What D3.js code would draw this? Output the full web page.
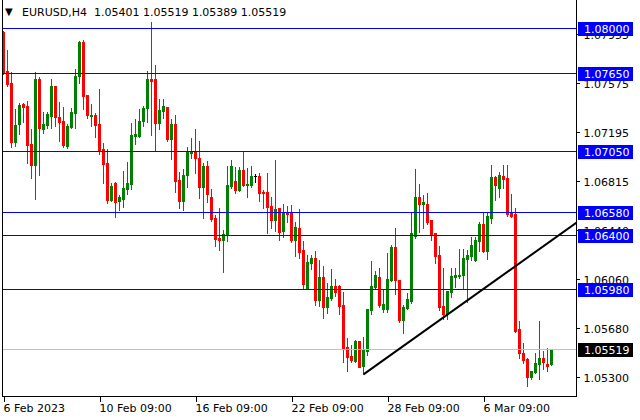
<!DOCTYPE html>
<html>
<head>
<meta charset="utf-8">
<script src="https://cdn.jsdelivr.net/npm/d3@7"></script>
<style>
html,body{margin:0;padding:0;background:#fff;}
svg{display:block;font-family:"DejaVu Sans",Verdana,sans-serif;}
</style>
</head>
<body>
<svg id="chart" width="640" height="420"></svg>
<script>
// ---- data (EURUSD H4) ----
const symbolTitle = "EURUSD,H4";
const opens = [
1.07974,1.07669,1.07576,1.07122,1.07261,1.07414,1.07398,1.07104,1.06944,1.07605,
1.07223,1.07254,1.07323,1.07553,1.0731,1.07282,1.07091,1.07235,1.07347,1.07631,
1.07894,1.07481,1.07321,1.07326,1.07259,1.07065,1.06954,1.0667,1.06802,1.06662,
1.06678,1.06758,1.06796,1.07168,1.07168,1.07282,1.0738,1.07605,1.07605,1.07269,
1.07362,1.07388,1.07145,1.07259,1.06825,1.06665,1.06861,1.07037,1.07042,1.06998,
1.06773,1.06933,1.06693,1.0653,1.06375,1.06362,1.06399,1.06781,1.06817,1.0675,
1.06902,1.06789,1.06789,1.06856,1.06856,1.06732,1.06732,1.06623,1.06515,1.06608,
1.06432,1.06574,1.06574,1.0636,1.06453,1.06282,1.0599,1.06182,1.0622,1.05897,
1.06073,1.05843,1.0591,1.06006,1.06006,1.05856,1.05531,1.05464,1.05422,1.05577,
1.05386,1.055,1.0582,1.05996,1.06073,1.05825,1.05828,1.06047,1.06306,1.0605,
1.05742,1.05835,1.05887,1.06391,1.06693,1.06641,1.06641,1.06515,1.06417,1.06244,
1.05848,1.05784,1.05959,1.06076,1.06081,1.06086,1.06215,1.06236,1.06205,1.06355,
1.06484,1.06277,1.06533,1.06851,1.0676,1.06856,1.0684,1.06566,1.06561,1.0567,
1.05484,1.05438,1.05296,1.05337,1.05402,1.05445,1.05402,1.05401];
const highs = [
1.07979,1.07832,1.07659,1.07375,1.07424,1.07424,1.07437,1.0722,1.07664,1.07623,
1.07349,1.07352,1.07607,1.07553,1.07429,1.0739,1.07259,1.07383,1.07685,1.07902,
1.0791,1.07483,1.07416,1.07344,1.0753,1.07111,1.07065,1.06802,1.06812,1.06709,
1.06895,1.06964,1.07266,1.07297,1.07372,1.07398,1.07669,1.08052,1.07716,1.07452,
1.07452,1.07388,1.07297,1.07328,1.06887,1.0691,1.0708,1.07153,1.0722,1.07127,
1.06957,1.06972,1.06755,1.06551,1.0661,1.06437,1.06936,1.0698,1.06926,1.06926,
1.07044,1.0692,1.06936,1.06871,1.06879,1.06747,1.06879,1.06693,1.0698,1.06608,
1.06641,1.06623,1.06631,1.06502,1.066,1.06355,1.06246,1.06246,1.06277,1.06205,
1.06161,1.06027,1.06138,1.06058,1.06014,1.05959,1.05603,1.05546,1.05585,1.05577,
1.05606,1.05825,1.06197,1.0612,1.06143,1.05983,1.06262,1.06321,1.06453,1.0605,
1.05856,1.05946,1.06574,1.0691,1.06796,1.06709,1.06724,1.06515,1.06417,1.06313,
1.06143,1.05967,1.0614,1.0614,1.06288,1.06288,1.06282,1.06381,1.06381,1.06502,
1.06574,1.06574,1.06941,1.06856,1.06887,1.06938,1.06938,1.06716,1.06605,1.05732,
1.05559,1.05443,1.05347,1.05482,1.05732,1.055,1.05523,1.05519];
const lows = [
1.07644,1.07556,1.07083,1.07091,1.07184,1.07277,1.06959,1.06843,1.0668,1.06866,
1.07192,1.0723,1.0723,1.07243,1.0713,1.07083,1.07075,1.0723,1.0723,1.07579,
1.07378,1.07305,1.07243,1.07161,1.07029,1.06804,1.06649,1.06662,1.06541,1.06595,
1.06618,1.06719,1.06758,1.07106,1.07158,1.07243,1.07277,1.07173,1.07057,1.07223,
1.07308,1.0713,1.0699,1.06732,1.0661,1.06595,1.06773,1.06998,1.06882,1.06688,
1.06533,1.06652,1.0651,1.06316,1.06285,1.06114,1.06355,1.06765,1.06721,1.0674,
1.06778,1.06696,1.06773,1.06809,1.06665,1.0661,1.06417,1.0645,1.0643,1.06362,
1.06386,1.06502,1.06347,1.06238,1.06223,1.0598,1.0598,1.06138,1.05856,1.05848,
1.05758,1.05797,1.05895,1.05926,1.05789,1.05417,1.05347,1.05417,1.05414,1.05378,
1.05319,1.05471,1.05784,1.05985,1.05843,1.05804,1.05804,1.06045,1.05944,1.05727,
1.05642,1.05828,1.05874,1.06378,1.06422,1.06455,1.06484,1.0636,1.06184,1.05817,
1.05748,1.05748,1.05916,1.05998,1.06063,1.05985,1.05879,1.06205,1.062,1.06277,
1.06264,1.06213,1.06494,1.0667,1.06696,1.06765,1.06546,1.06541,1.05647,1.05448,
1.05409,1.05228,1.0528,1.05327,1.05283,1.0536,1.05347,1.05389];
const closes = [
1.07651,1.07571,1.07122,1.07248,1.07406,1.07393,1.07096,1.06944,1.07605,1.0723,
1.07256,1.07334,1.07553,1.0731,1.07277,1.07096,1.07243,1.07352,1.07631,1.07892,
1.07478,1.07328,1.07328,1.07254,1.0706,1.06951,1.0667,1.06778,1.06657,1.0669,
1.0676,1.06799,1.07171,1.07181,1.07282,1.0738,1.07605,1.07594,1.07269,1.07367,
1.07398,1.07145,1.07259,1.0682,1.06665,1.06864,1.07042,1.07042,1.06998,1.06773,
1.06933,1.06719,1.06525,1.0637,1.06362,1.06404,1.06786,1.06936,1.0675,1.06902,
1.06786,1.06796,1.06856,1.06856,1.06727,1.06727,1.06616,1.06515,1.066,1.06419,
1.06574,1.06564,1.0636,1.06463,1.06269,1.06019,1.06189,1.0622,1.05895,1.06073,
1.05843,1.05918,1.06006,1.05959,1.05851,1.05526,1.05453,1.0543,1.05577,1.05378,
1.05507,1.05825,1.06003,1.06086,1.05856,1.05864,1.06058,1.06308,1.06047,1.05742,
1.05843,1.05903,1.06414,1.06693,1.06641,1.06654,1.06502,1.06409,1.06238,1.05843,
1.05784,1.05967,1.06081,1.06086,1.06086,1.0622,1.06244,1.06321,1.0636,1.06484,
1.06277,1.06546,1.06851,1.06789,1.06866,1.06835,1.06559,1.06548,1.05655,1.05482,
1.0543,1.05301,1.05345,1.05409,1.05445,1.05414,1.05386,1.05519];

const levelPrices = [1.08, 1.0765, 1.0705, 1.0658, 1.064, 1.0598];
const priceTicks = [1.07955, 1.07575, 1.07195, 1.06815, 1.0644, 1.0606, 1.0568, 1.053];
const timeTickBars = [0, 24, 48, 72, 96, 120];
const timeTickLabels = ["6 Feb 2023", "10 Feb 09:00", "16 Feb 09:00", "22 Feb 09:00", "28 Feb 09:00", "6 Mar 09:00"];
const trendBars = [90, 137];
const trendPrices = [1.05319, 1.06356];

// ---- layout ----
const plotL = 2, plotR = 576, plotT = 0, plotB = 396;
const nBars = Math.min(opens.length, highs.length, lows.length, closes.length);
const lastClose = closes[nBars - 1];

const svg = d3.select("#chart");
const xS = d3.scaleLinear().domain([0, 137]).range([3.5, 551.5]);
const yS = d3.scaleLinear().domain([1.05151, 1.08219]).range([plotB, plotT]);
const py = p => Math.round(yS(p));

svg.append("rect").attr("width", 640).attr("height", 420).attr("fill", "#fff");

svg.append("defs").append("clipPath").attr("id", "plotclip")
  .append("rect").attr("x", plotL + 1).attr("y", plotT).attr("width", plotR - plotL - 1).attr("height", plotB - plotT);

const plot = svg.append("g").attr("clip-path", "url(#plotclip)").attr("shape-rendering", "crispEdges");

const bars = d3.range(nBars).map(i => ({i, o: opens[i], h: highs[i], l: lows[i], c: closes[i]}));
const col = d => d.c > d.o ? "#008000" : (d.c < d.o ? "#ff0000" : "#000000");

plot.selectAll("rect.wick").data(bars).join("rect").attr("class", "wick")
  .attr("x", d => Math.floor(xS(d.i)))
  .attr("width", 1)
  .attr("y", d => py(d.h))
  .attr("height", d => Math.max(1, py(d.l) - py(d.h) + 1))
  .attr("fill", col);
plot.selectAll("rect.body").data(bars).join("rect").attr("class", "body")
  .attr("x", d => Math.floor(xS(d.i)) - 1)
  .attr("width", 3)
  .attr("y", d => py(Math.max(d.o, d.c)))
  .attr("height", d => Math.max(1, py(Math.min(d.o, d.c)) - py(Math.max(d.o, d.c)) + 1))
  .attr("fill", col);

plot.selectAll("line.level").data(levelPrices).join("line").attr("class", "level")
  .attr("x1", plotL).attr("x2", plotR)
  .attr("y1", d => py(d) + 0.5).attr("y2", d => py(d) + 0.5)
  .attr("stroke", "#0000ff").attr("stroke-width", 1);

plot.append("line")
  .attr("x1", plotL).attr("x2", plotR)
  .attr("y1", py(lastClose) + 0.5).attr("y2", py(lastClose) + 0.5)
  .attr("stroke", "#c0c0c0").attr("stroke-width", 1);

const slope = (trendPrices[1] - trendPrices[0]) / (trendBars[1] - trendBars[0]);
const endBar = xS.invert(plotR + 2);
svg.append("g").attr("clip-path", "url(#plotclip)").append("line")
  .attr("x1", xS(trendBars[0])).attr("y1", yS(trendPrices[0]))
  .attr("x2", xS(endBar)).attr("y2", yS(trendPrices[0] + slope * (endBar - trendBars[0])))
  .attr("stroke", "#000").attr("stroke-width", 2);

svg.append("path")
  .attr("d", `M${plotL + 0.5},${plotT}V${plotB + 0.5}H${plotR + 0.5}V${plotT}`)
  .attr("fill", "none").attr("stroke", "#000").attr("stroke-width", 1)
  .attr("shape-rendering", "crispEdges");

const yAxis = svg.append("g").attr("transform", `translate(${plotR + 0.5},0)`)
  .call(d3.axisRight(yS).tickValues(priceTicks).tickSize(3).tickSizeOuter(0).tickPadding(4)
    .tickFormat(d3.format(".5f")));
yAxis.select(".domain").remove();
yAxis.selectAll("line").attr("stroke", "#000").attr("shape-rendering", "crispEdges");
yAxis.selectAll("text").attr("font-size", 11).attr("font-family", "DejaVu Sans")
  .attr("fill", "#000").attr("dy", "0.42em");

const xAxis = svg.append("g").attr("transform", `translate(0,${plotB + 0.5})`)
  .call(d3.axisBottom(xS).tickValues(timeTickBars).tickSize(5).tickSizeOuter(0).tickPadding(3)
    .tickFormat((d, i) => timeTickLabels[i]));
xAxis.select(".domain").remove();
xAxis.selectAll("line").attr("stroke", "#000").attr("shape-rendering", "crispEdges");
xAxis.selectAll("text").attr("font-size", 11).attr("font-family", "DejaVu Sans")
  .attr("fill", "#000").attr("text-anchor", "start").attr("x", -0.5);

const tags = levelPrices.map(p => ({p, bg: "#0000ff"})).concat([{p: lastClose, bg: "#000000"}]);
const tagG = svg.append("g");
tagG.selectAll("rect").data(tags).join("rect")
  .attr("x", plotR + 2).attr("width", 55)
  .attr("y", d => py(d.p) - 6).attr("height", 14)
  .attr("fill", d => d.bg).attr("shape-rendering", "crispEdges");
tagG.selectAll("text").data(tags).join("text")
  .attr("x", plotR + 8).attr("y", d => py(d.p) + 5)
  .attr("font-size", 11).attr("fill", "#fff")
  .text(d => d3.format(".5f")(d.p));

svg.append("text").attr("x", 5).attr("y", 15).attr("font-size", 10).attr("fill", "#000").text("▼");
const f5 = d3.format(".5f");
svg.append("text").attr("x", 22).attr("y", 16).attr("font-size", 11).attr("fill", "#000")
  .style("white-space", "pre")
  .text(`${symbolTitle}  ${f5(opens[nBars-1])} ${f5(highs[nBars-1])} ${f5(lows[nBars-1])} ${f5(closes[nBars-1])}`);
</script>
</body>
</html>
